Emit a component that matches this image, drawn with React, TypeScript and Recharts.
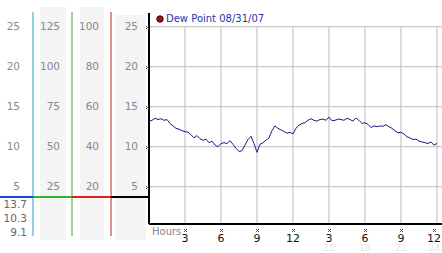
import React from 'react';
import {LineChart, Line, XAxis, YAxis, CartesianGrid, ReferenceLine, Legend} from 'recharts';

// dew point readings, one every 15 minutes from midnight
const dewPoint = [
  13.2, 13.3, 13.55, 13.4, 13.5, 13.3, 13.4, 12.9, 12.6, 12.3,
  12.2, 12.0, 11.9, 11.8, 11.5, 11.1, 11.4, 11.0, 10.8, 10.95,
  10.5, 10.7, 10.2, 10.0, 10.4, 10.5, 10.4, 10.75, 10.3, 9.8,
  9.4, 9.5, 10.2, 10.9, 11.3, 10.4, 9.3, 10.3, 10.5, 10.8,
  11.1, 12.0, 12.6, 12.3, 12.1, 11.9, 11.7, 11.8, 11.6, 12.3,
  12.7, 12.9, 13.0, 13.3, 13.5, 13.3, 13.2, 13.4, 13.45, 13.3,
  13.7, 13.25, 13.3, 13.45, 13.4, 13.3, 13.55, 13.4, 13.2, 13.6,
  13.3, 12.9, 13.0, 12.8, 12.4, 12.6, 12.5, 12.6, 12.55, 12.75,
  12.5, 12.3, 12.0, 11.75, 11.8, 11.6, 11.25, 11.1, 10.9, 10.95,
  10.7, 10.6, 10.5, 10.4, 10.6, 10.2, 10.4,
];
const hourTicks = [3, 6, 9, 12, 15, 18, 21, 24];
const dewTicks = [5, 10, 15, 20, 25];
const pctTicks = [25, 50, 75, 100, 125];
const tempTicks = [20, 40, 60, 80, 100];
const readouts = ['13.7', '10.3', '9.1'];
const legendLabel = 'Dew Point 08/31/07';

const points = dewPoint.map((v, i) => ({h: i * 0.25, v}));

const FONT = '"DejaVu Sans", Verdana, sans-serif';

const Mark = ({x, y}: {x: number; y: number}) => {
  const px = Math.round(x), py = Math.round(y);
  return <g fill="#555">
    <rect x={px - 1} y={py} width={1} height={1}/>
    <rect x={px + 1} y={py} width={1} height={1}/>
    <rect x={px} y={py + 1} width={1} height={1}/>
    <rect x={px - 1} y={py + 2} width={1} height={1}/>
    <rect x={px + 1} y={py + 2} width={1} height={1}/>
  </g>;
};

const HourTick = (props: any) => {
  const {x, y, payload} = props;
  const v = payload.value;
  return <g>
    <Mark x={x} y={y - 7}/>
    <text x={x} y={y - 2} dy="0.71em" textAnchor="middle" fontSize={11} fill="#111" fontFamily={FONT}>{v > 12 ? v - 12 : v}</text>
    {v > 12 && <text x={x} y={y + 9} dy="0.71em" textAnchor="middle" fontSize={9} fill="#e6e6e6" fontFamily={FONT}>{v}</text>}
  </g>;
};

const DewTick = (props: any) => {
  const {x, y, payload} = props;
  return <g>
    <text x={x - 11} y={y} dy="0.355em" textAnchor="end" fontSize={10.5} fill="#888" fontFamily={FONT}>{payload.value}</text>
    <Mark x={x - 2} y={y - 1}/>
  </g>;
};

const tickStyle = {fontSize: 10.5, fill: '#888', fontFamily: FONT};

export default function App() {
  const bg = (left: number, width: number, top: number) =>
    <div style={{position: 'absolute', left, width, top, height: 240 - top, background: '#f4f4f4'}}/>;
  const bar = (left: number, width: number, color: string) =>
    <div style={{position: 'absolute', left, width, top: 196, height: 2, background: color}}/>;
  return <div style={{position: 'fixed', left: 0, top: 0, width: 442, height: 253, background: '#fff', fontFamily: FONT}}>
    {bg(40, 26, 7)}
    {bg(80, 24, 7)}
    {bg(115, 31, 15)}
    <LineChart width={442} height={253} data={points} margin={{top: 12, right: 0, left: 0, bottom: 0}}>
      <CartesianGrid yAxisId="p0" vertical={false} stroke="#bbb" horizontalValues={dewTicks}/>
      <XAxis dataKey="h" type="number" domain={[0, 24.42]} ticks={hourTicks} axisLine={false} tickLine={false}
             tickSize={0} tickMargin={0} height={17} tick={<HourTick/>} allowDataOverflow/>
      <YAxis yAxisId="p0" width={38} domain={[-1.16, 26.84]} ticks={dewTicks} axisLine={false} tickLine={false}
             tickSize={0} tickMargin={0} tick={<DewTick/>} allowDataOverflow/>
      <YAxis yAxisId="p1" width={39} domain={[-4.64, 107.36]} ticks={tempTicks} axisLine={{stroke: '#b52525'}} tickLine={false}
             tickSize={0} tickMargin={12} tick={tickStyle} allowDataOverflow/>
      <YAxis yAxisId="p2" width={39} domain={[-5.8, 134.2]} ticks={pctTicks} axisLine={{stroke: '#3aa63a'}} tickLine={false}
             tickSize={0} tickMargin={12} tick={tickStyle} allowDataOverflow/>
      <YAxis yAxisId="p3" width={33} domain={[-1.16, 26.84]} ticks={dewTicks} axisLine={{stroke: '#2a9cc8'}} tickLine={false}
             tickSize={0} tickMargin={13} tick={tickStyle} allowDataOverflow/>
      {hourTicks.map(t => <ReferenceLine key={t} yAxisId="p0" stroke="#bbb"
        segment={[{x: t, y: 0.34}, {x: t, y: 25}]}/>)}
      <ReferenceLine yAxisId="p0" y={0.34} stroke="#000" strokeWidth={2}/>
      <ReferenceLine yAxisId="p0" stroke="#000" strokeWidth={2} segment={[{x: 0, y: 0.34}, {x: 0, y: 26.7}]}/>
      <Line yAxisId="p0" type="linear" dataKey="v" stroke="#1a1a8c" strokeWidth={1} dot={false} isAnimationActive={false}/>
      <Legend layout="vertical" align="center" verticalAlign="middle" wrapperStyle={{top: 13, left: 156, width: 'auto', height: 'auto'}}
        content={() => <div style={{display: 'flex', alignItems: 'center', fontSize: 10, color: '#2235b0', fontFamily: FONT}}>
          <svg width={8} height={8}><circle cx={4} cy={4} r={3.2} fill="#a01010" stroke="#400"/></svg>
          <span style={{marginLeft: 2}}>{legendLabel}</span>
        </div>}/>
    </LineChart>
    {bar(0, 33, '#1646d4')}
    {bar(33, 39, '#2db52d')}
    {bar(72, 39, '#e02020')}
    {bar(111, 39, '#000')}
    {readouts.map((r, i) => <div key={r} style={{position: 'absolute', left: 0, width: 27, top: 198 + i * 14, textAlign: 'right', fontSize: 10.5, color: '#666', lineHeight: '13px'}}>{r}</div>)}
    <div style={{position: 'absolute', left: 152, top: 225, fontSize: 10, color: '#888', lineHeight: '13px'}}>Hours</div>
  </div>;
}
